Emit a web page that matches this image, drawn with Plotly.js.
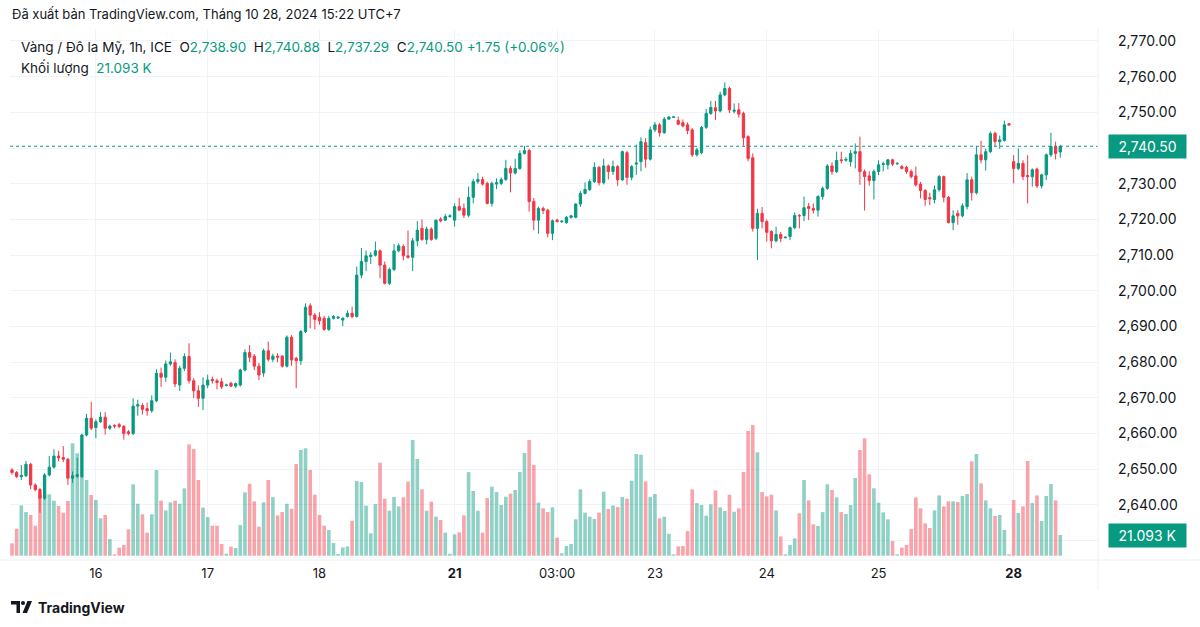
<!DOCTYPE html>
<html><head><meta charset="utf-8">
<script src="https://cdn.plot.ly/plotly-3.0.1.min.js"></script>
<style>html,body{margin:0;padding:0;background:#fff;}#chart{width:1200px;height:627px;}</style>
</head><body><div id="chart"></div>
<script>
const OPEN = [2649.8,2649.1,2647.9,2648.2,2651.4,2645.6,2644.3,2641.9,2648.4,2650.6,
2653.7,2653.3,2652.8,2647.5,2648.0,2648.0,2659.6,2664.3,2661.7,2663.3,
2664.6,2661.5,2662.3,2662.5,2662.0,2660.5,2660.0,2667.7,2667.9,2667.0,
2666.4,2669.2,2676.9,2675.8,2679.5,2679.9,2673.6,2678.3,2681.6,2674.8,
2672.0,2669.9,2673.6,2675.2,2674.8,2674.5,2673.5,2674.1,2673.3,2673.6,
2677.8,2682.7,2681.7,2678.9,2677.0,2683.2,2680.8,2681.7,2681.7,2678.9,
2687.0,2681.1,2680.4,2688.6,2695.8,2693.2,2692.6,2692.3,2689.2,2692.3,
2692.4,2691.8,2692.8,2693.7,2692.8,2704.4,2708.2,2709.6,2710.0,2711.2,
2707.2,2702.1,2706.0,2711.2,2712.4,2709.8,2709.4,2714.0,2717.5,2714.4,
2717.3,2714.7,2720.1,2719.8,2720.8,2719.8,2723.6,2723.1,2721.2,2726.2,
2730.6,2731.2,2730.1,2724.5,2729.9,2730.1,2731.2,2734.3,2733.0,2734.3,
2738.5,2739.3,2725.0,2719.8,2723.1,2722.6,2716.1,2719.8,2719.4,2719.1,
2720.6,2720.6,2724.3,2727.3,2728.4,2730.6,2734.6,2730.3,2735.0,2733.4,
2734.8,2731.1,2738.7,2731.8,2735.5,2736.2,2741.5,2736.9,2745.1,2746.5,
2744.3,2748.1,2748.6,2747.7,2747.1,2746.5,2745.1,2738.1,2738.7,2745.8,
2749.7,2751.3,2750.4,2754.9,2756.7,2750.3,2750.7,2749.7,2743.2,2737.3,
2717.5,2721.7,2719.4,2716.6,2714.0,2715.8,2714.9,2715.2,2717.7,2721.1,
2721.1,2723.6,2723.1,2722.6,2726.4,2728.7,2735.0,2733.4,2736.7,2736.6,
2736.2,2738.5,2739.0,2733.4,2732.2,2730.9,2733.4,2735.4,2735.3,2736.7,
2735.6,2734.8,2734.6,2733.4,2732.2,2729.9,2728.1,2726.1,2725.6,2728.3,
2732.0,2726.2,2719.1,2721.7,2721.0,2723.6,2731.1,2727.5,2738.1,2736.7,
2739.0,2744.1,2741.8,2742.1,2746.8,2736.2,2734.3,2735.7,2732.3,2732.0,
2734.1,2729.4,2732.5,2738.1,2740.4,2738.90];
const HIGH = [2650.3,2649.5,2651.2,2652.3,2651.8,2646.0,2644.8,2648.9,2653.7,2655.6,
2655.2,2656.5,2653.2,2649.4,2653.2,2660.0,2665.5,2668.9,2664.0,2666.0,
2666.0,2662.5,2662.6,2663.0,2662.4,2661.0,2669.9,2669.5,2668.5,2668.7,
2670.7,2678.0,2678.5,2680.5,2682.7,2680.8,2679.0,2682.5,2685.3,2675.5,
2673.5,2675.8,2676.5,2676.0,2675.4,2675.6,2674.0,2674.5,2674.3,2678.2,
2683.6,2684.8,2682.3,2679.8,2683.8,2685.8,2682.4,2682.5,2682.0,2687.5,
2687.6,2681.5,2689.0,2696.5,2696.5,2693.8,2694.0,2693.0,2693.0,2693.2,
2692.9,2692.6,2694.5,2695.6,2706.8,2712.0,2711.3,2710.8,2713.8,2711.6,
2708.2,2706.5,2713.1,2713.3,2713.0,2716.9,2714.8,2719.5,2720.0,2718.0,
2717.8,2720.0,2720.6,2721.5,2721.4,2724.5,2726.0,2724.5,2729.2,2731.4,
2733.0,2732.0,2730.6,2730.6,2731.5,2731.8,2736.7,2735.0,2737.0,2739.4,
2740.6,2739.8,2726.0,2723.6,2723.6,2723.0,2720.0,2720.2,2719.8,2721.0,
2721.3,2724.6,2728.0,2730.4,2731.3,2736.0,2735.0,2737.0,2735.4,2736.5,
2735.2,2739.3,2739.2,2735.2,2741.0,2743.0,2742.8,2746.0,2747.3,2747.0,
2748.7,2749.0,2749.0,2748.8,2748.0,2747.2,2745.6,2740.0,2746.2,2751.0,
2753.2,2753.2,2755.8,2758.4,2757.2,2752.5,2752.6,2750.2,2743.6,2738.5,
2723.0,2723.5,2720.0,2717.0,2718.0,2716.5,2715.3,2718.0,2722.0,2721.5,
2726.4,2724.6,2724.5,2726.8,2729.2,2735.5,2736.0,2739.0,2739.0,2737.5,
2739.5,2741.3,2743.2,2734.0,2733.5,2734.0,2736.6,2736.2,2736.9,2737.0,
2736.0,2735.3,2735.0,2734.0,2734.8,2730.5,2728.5,2727.5,2729.5,2732.5,
2732.3,2726.6,2722.6,2722.6,2724.5,2733.0,2732.0,2740.5,2742.0,2739.8,
2744.6,2744.6,2743.5,2747.7,2747.0,2738.0,2739.9,2736.6,2738.0,2734.3,
2734.5,2732.8,2738.5,2744.3,2741.8,2740.88];
const LOW = [2648.5,2647.5,2647.0,2647.8,2644.4,2643.8,2637.8,2641.4,2648.0,2650.2,
2652.2,2652.0,2645.6,2646.2,2647.6,2647.5,2659.2,2661.0,2658.7,2663.0,
2659.7,2661.0,2661.5,2661.5,2658.3,2659.5,2659.6,2665.0,2665.3,2665.0,
2665.8,2668.8,2673.1,2674.5,2679.0,2673.0,2672.0,2677.5,2674.0,2669.9,
2667.5,2666.6,2672.7,2674.0,2672.4,2672.5,2673.2,2673.0,2672.8,2673.2,
2677.4,2680.0,2677.8,2675.0,2675.9,2680.2,2680.0,2680.0,2678.5,2678.5,
2679.0,2672.7,2679.2,2688.2,2689.5,2689.2,2690.5,2688.8,2688.8,2692.0,
2692.1,2690.1,2692.5,2692.3,2692.5,2703.5,2705.5,2707.5,2709.6,2703.5,
2701.8,2701.6,2705.5,2710.8,2708.5,2709.0,2705.5,2712.5,2714.0,2713.0,
2714.0,2714.2,2719.2,2719.6,2720.5,2718.0,2722.3,2720.4,2720.6,2724.5,
2730.0,2729.5,2724.2,2723.6,2728.5,2729.6,2730.8,2727.6,2732.6,2733.9,
2738.2,2722.2,2717.0,2716.0,2721.5,2715.0,2714.2,2719.2,2719.0,2718.8,
2720.2,2720.3,2723.5,2727.0,2728.0,2730.2,2729.5,2729.8,2731.2,2732.5,
2729.4,2730.8,2729.7,2731.0,2732.5,2733.5,2734.5,2736.5,2744.5,2743.2,
2744.0,2748.0,2748.4,2746.4,2745.8,2743.9,2737.5,2737.6,2738.3,2745.3,
2749.3,2747.9,2750.0,2754.5,2749.8,2749.7,2748.5,2740.7,2736.3,2716.6,
2708.6,2717.5,2713.8,2711.9,2713.6,2713.6,2714.7,2714.2,2717.3,2717.5,
2719.5,2719.8,2721.7,2720.8,2725.5,2728.3,2732.5,2733.0,2735.7,2736.2,
2734.8,2734.3,2729.7,2722.5,2729.5,2725.6,2732.4,2733.5,2734.0,2735.0,
2735.3,2734.0,2732.8,2731.5,2729.2,2725.9,2723.8,2724.0,2724.5,2727.8,
2724.8,2718.9,2717.0,2718.5,2720.6,2722.8,2725.3,2727.0,2735.7,2733.7,
2738.6,2740.4,2739.8,2741.8,2746.3,2730.1,2733.8,2731.0,2724.5,2729.2,
2728.8,2728.7,2731.0,2737.5,2736.8,2737.29];
const CLOSE = [2649.1,2648.0,2648.3,2651.4,2645.6,2644.3,2641.9,2648.4,2650.6,2653.7,
2653.2,2652.8,2647.5,2648.2,2648.5,2659.6,2664.3,2661.5,2663.3,2664.6,
2661.5,2662.1,2662.1,2662.0,2660.0,2660.0,2667.7,2668.1,2666.8,2666.4,
2669.2,2676.9,2675.8,2679.5,2680.1,2673.9,2678.3,2681.6,2674.8,2672.0,
2669.9,2673.6,2675.0,2674.8,2674.3,2673.1,2673.6,2673.3,2674.0,2677.8,
2682.7,2681.4,2678.9,2676.4,2683.2,2680.8,2681.7,2681.4,2678.9,2687.0,
2680.6,2680.4,2688.6,2695.4,2693.2,2692.0,2691.6,2689.2,2692.3,2692.8,
2692.6,2692.3,2693.7,2692.8,2704.4,2708.2,2709.8,2710.0,2711.2,2707.2,
2702.1,2706.0,2711.2,2712.6,2709.8,2709.4,2714.0,2717.0,2714.4,2717.3,
2714.4,2719.8,2719.6,2720.8,2721.0,2723.6,2722.6,2721.2,2726.2,2730.6,
2731.2,2729.9,2724.5,2730.1,2730.3,2731.2,2734.3,2733.0,2734.3,2738.5,
2739.3,2725.0,2719.8,2723.1,2722.5,2716.1,2719.6,2719.4,2719.5,2720.6,
2721.0,2724.3,2727.3,2728.4,2730.6,2734.6,2730.3,2735.0,2733.4,2734.8,
2731.1,2739.0,2731.8,2734.8,2735.8,2741.8,2736.9,2745.1,2746.5,2744.3,
2748.1,2748.7,2748.7,2746.7,2746.2,2744.9,2738.1,2739.5,2745.8,2749.7,
2751.4,2750.4,2754.9,2756.7,2750.7,2750.6,2749.5,2742.9,2737.1,2717.5,
2721.7,2719.4,2716.4,2714.0,2715.8,2714.7,2715.0,2717.7,2721.1,2721.0,
2723.3,2723.1,2722.6,2726.4,2728.7,2735.0,2733.4,2736.5,2736.5,2736.8,
2738.5,2739.0,2733.4,2732.0,2730.9,2733.4,2735.3,2735.6,2736.7,2735.5,
2735.7,2734.3,2733.4,2732.0,2729.7,2728.1,2725.6,2725.8,2728.3,2732.0,
2726.2,2719.1,2721.0,2721.0,2723.8,2731.1,2727.5,2738.1,2736.7,2739.0,
2744.1,2741.8,2742.3,2746.5,2746.5,2734.3,2735.7,2732.0,2732.0,2733.9,
2729.4,2732.5,2738.1,2740.4,2738.5,2740.50];
const VOLUME_K = [12.6,27.5,51.3,44.5,41.5,30.6,61.9,61.9,62.6,56.1,
50.7,43.9,55.8,114.6,104.4,81.3,77.2,61.9,56.8,38.1,
41.5,17.0,1.4,8.2,10.9,26.9,72.8,53.0,42.2,23.5,
42.2,87.4,56.1,46.2,54.4,56.1,53.0,68.7,113.6,108.8,
77.2,49.0,39.4,30.6,30.6,11.9,2.0,9.2,7.8,31.3,
64.6,73.4,55.4,29.6,54.4,77.2,59.8,41.1,44.5,53.0,
47.9,93.5,107.8,109.5,87.4,62.2,41.5,30.6,26.2,12.9,
1.7,8.5,9.5,35.7,76.2,75.1,51.0,22.8,52.7,94.9,
58.1,45.9,59.8,50.3,59.5,75.5,118.0,98.6,67.7,45.9,
55.1,39.8,36.4,23.5,2.0,21.8,23.8,41.1,85.3,66.0,
45.9,23.5,58.8,70.4,64.9,51.7,60.2,63.2,67.0,85.3,
104.7,118.0,92.5,54.1,48.3,44.5,49.3,18.4,2.4,9.9,
11.9,37.1,67.7,43.9,39.8,37.4,43.9,65.3,47.6,51.3,
49.6,59.8,58.1,76.5,103.7,103.0,75.8,59.8,62.9,38.1,
39.8,22.4,1.4,9.5,9.9,25.2,67.7,53.7,51.7,40.8,
52.4,66.6,49.3,45.6,62.2,44.9,48.3,85.3,127.2,133.3,
105.4,64.9,60.5,62.2,46.2,19.7,1.4,10.9,17.7,43.2,
77.2,56.4,32.0,30.3,44.5,72.8,67.0,59.5,44.5,42.5,
51.7,79.2,107.8,119.7,83.0,68.7,54.1,44.2,37.1,15.0,
1.4,8.2,10.9,27.2,59.5,48.3,33.0,28.2,46.2,61.5,
50.3,55.4,55.4,54.7,60.9,62.9,96.2,103.7,73.8,56.4,
48.3,40.5,41.5,26.2,1.4,56.8,43.5,50.3,96.6,53.7,
61.5,35.4,60.9,73.1,56.4,21.093];
const TIME_TICK_POS = [18,42,66,95,117,138,162,186,215];
const TIME_TICK_TEXT = ['16','17','18','<b>21</b>','03:00','23','24','25','<b>28</b>'];
const PRICE_TICKS = [2630,2640,2650,2660,2670,2680,2690,2700,2710,2720,2730,2740,2750,2760,2770];
const HIDDEN_PRICE_LABELS = [2630,2740];
const LAST = {o:2738.90, h:2740.88, l:2737.29, c:2740.50, chg:'+1.75', pct:'(+0.06%)'};
const LAST_VOL_TEXT = '21.093 K';

const UP = '#089981', DOWN = '#f23645';
const IDX = OPEN.map((_, i) => i);
const volColors = OPEN.map((o, i) => CLOSE[i] >= o ? 'rgba(8,153,129,0.45)' : 'rgba(242,54,69,0.45)');

// pixel helpers (plot area: x 10..1098, y 30..558)
const L = 10, R = 102, T = 30, B = 69, W = 1200 - L - R, H = 627 - T - B;
const px = x => (x - L) / W;
const py = y => 1 - (y - T) / H;

const FONT = 'Inter, Roboto, "Noto Sans", sans-serif';
const TXT = '#131722';
const nb = '\u00a0';
const fmt = v => v.toLocaleString('en-US', {minimumFractionDigits: 2, maximumFractionDigits: 2});
const g = s => `<span style="color:${UP}">${s}</span>`;

const traces = [
  {type: 'bar', x: IDX, y: VOLUME_K, yaxis: 'y2', marker: {color: volColors, line: {width: 0}},
   hoverinfo: 'skip', showlegend: false},
  {type: 'candlestick', x: IDX, open: OPEN, high: HIGH, low: LOW, close: CLOSE,
   increasing: {line: {color: UP, width: 1}, fillcolor: UP},
   decreasing: {line: {color: DOWN, width: 1}, fillcolor: DOWN},
   whiskerwidth: 0, hoverinfo: 'skip', showlegend: false}
];

const layout = {
  width: 1200, height: 627,
  margin: {l: L, r: R, t: T, b: B},
  paper_bgcolor: '#ffffff', plot_bgcolor: '#ffffff',
  font: {family: FONT, size: 13, color: TXT},
  showlegend: false, bargap: 0.22, hovermode: false,
  xaxis: {
    range: [-0.43, 233.1], tickvals: TIME_TICK_POS, ticktext: TIME_TICK_TEXT,
    showgrid: true, gridcolor: '#f0f3fa', gridwidth: 1, zeroline: false, showline: false,
    ticks: '', ticklabelstandoff: 6, tickfont: {size: 13, color: TXT},
    rangeslider: {visible: false}, fixedrange: true
  },
  yaxis: {
    side: 'right', range: [2625.14, 2773.08], tickvals: PRICE_TICKS,
    ticktext: PRICE_TICKS.map(v => HIDDEN_PRICE_LABELS.includes(v) ? '' : fmt(v)),
    showgrid: true, gridcolor: '#f0f3fa', gridwidth: 1, zeroline: false, showline: false,
    ticks: '', ticklabelstandoff: 19, tickfont: {size: 14, color: TXT}, fixedrange: true
  },
  yaxis2: {overlaying: 'y', range: [-2.35, 536.2], visible: false, fixedrange: true},
  shapes: [
    {type: 'line', xref: 'paper', yref: 'y', x0: 0, x1: 1, y0: LAST.c, y1: LAST.c,
     line: {color: UP, width: 1, dash: 'dot'}},
    {type: 'line', xref: 'paper', yref: 'paper', x0: px(1098), x1: px(1098), y0: py(28), y1: py(590),
     line: {color: '#eef0f4', width: 1}},
    {type: 'line', xref: 'paper', yref: 'paper', x0: px(0), x1: px(1200), y0: py(560), y1: py(560),
     line: {color: '#eef0f4', width: 1}},
    {type: 'path', xref: 'paper', yref: 'paper',
     path: `M ${px(11)} ${py(601)} L ${px(20)} ${py(601)} L ${px(20)} ${py(613)} L ${px(16.5)} ${py(613)} L ${px(16.5)} ${py(604.5)} L ${px(11)} ${py(604.5)} Z`,
     fillcolor: TXT, line: {width: 0}},
    {type: 'circle', xref: 'paper', yref: 'paper', x0: px(21), x1: px(25), y0: py(601), y1: py(605),
     fillcolor: TXT, line: {width: 0}},
    {type: 'path', xref: 'paper', yref: 'paper',
     path: `M ${px(27.5)} ${py(601)} L ${px(32)} ${py(601)} L ${px(27)} ${py(613)} L ${px(22.5)} ${py(613)} Z`,
     fillcolor: TXT, line: {width: 0}}
  ],
  annotations: [
    {xref: 'paper', yref: 'paper', x: px(10), y: py(14), xanchor: 'left', yanchor: 'middle',
     text: 'Đã xuất bản TradingView.com, Tháng 10 28, 2024 15:22 UTC+7', showarrow: false,
     font: {size: 13, color: TXT}},
    {xref: 'paper', yref: 'paper', x: px(19), y: py(47), xanchor: 'left', yanchor: 'middle', showarrow: false,
     font: {size: 13.5, color: TXT},
     text: `Vàng / Đô la Mỹ, 1h, ICE${nb}${nb}O${g(fmt(LAST.o))}${nb}${nb}H${g(fmt(LAST.h))}${nb}${nb}L${g(fmt(LAST.l))}${nb}${nb}C${g(fmt(LAST.c))}${nb}${g(LAST.chg + nb + LAST.pct)}`},
    {xref: 'paper', yref: 'paper', x: px(19), y: py(67), xanchor: 'left', yanchor: 'middle', showarrow: false,
     font: {size: 13.5, color: TXT}, text: `Khối lượng${nb}${nb}${g(LAST_VOL_TEXT)}`},
    {xref: 'paper', yref: 'y', x: px(1108), y: LAST.c, xanchor: 'left', yanchor: 'middle', showarrow: false,
     text: fmt(LAST.c), font: {size: 14, color: '#ffffff'}, bgcolor: UP, borderpad: 3, width: 71},
    {xref: 'paper', yref: 'y2', x: px(1108), y: VOLUME_K[VOLUME_K.length - 1], xanchor: 'left', yanchor: 'middle',
     showarrow: false, text: LAST_VOL_TEXT, font: {size: 14, color: '#ffffff'}, bgcolor: UP, borderpad: 3, width: 71},
    {xref: 'paper', yref: 'paper', x: px(36), y: py(607), xanchor: 'left', yanchor: 'middle', showarrow: false,
     text: '<b>TradingView</b>', font: {size: 14, color: TXT}}
  ]
};

Plotly.newPlot('chart', traces, layout, {displayModeBar: false, staticPlot: true});
</script></body></html>
